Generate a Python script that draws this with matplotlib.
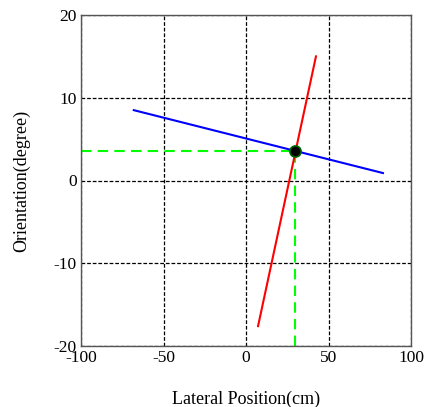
import matplotlib
matplotlib.use('Agg')
import matplotlib.pyplot as plt

# line endpoints
blue_x = [-68, 83]
blue_y = [8.5, 0.9]
red_x = [7.3, 42.4]
red_y = [-17.6, 15.0]
cross_x = 29.7
cross_y = 3.6

xticks = [-100, -50, 0, 50, 100]
yticks = [-20, -10, 0, 10, 20]

plt.rcParams['font.family'] = ['Liberation Serif', 'DejaVu Serif']
plt.rcParams['axes.unicode_minus'] = False

fig = plt.figure(figsize=(4.24, 4.07), dpi=100)
ax = fig.add_axes([81 / 424, 1 - 346 / 407, 330 / 424, 331 / 407])

ax.plot(blue_x, blue_y, color='blue', linewidth=1.5, zorder=3)
ax.plot(red_x, red_y, color='red', linewidth=1.5, zorder=3)
ax.plot([-100, cross_x], [cross_y, cross_y], color='#00ff00', linestyle='--',
        linewidth=1.5, dashes=(5, 3), zorder=2)
ax.plot([cross_x, cross_x], [-20, cross_y], color='#00ff00', linestyle='--',
        linewidth=1.5, dashes=(5, 3), zorder=2)
ax.plot(cross_x, cross_y, 'o', markersize=8, markerfacecolor='black',
        markeredgecolor='#006600', markeredgewidth=1.2, zorder=4)

ax.set_xlim(-100, 100)
ax.set_ylim(-20, 20)
ax.set_xticks(xticks)
ax.set_yticks(yticks)
ax.grid(True, color='black', linestyle=(0, (3, 1.5)), linewidth=0.9)
ax.tick_params(length=0, labelsize=12.5)
ax.tick_params(axis='x', pad=3)
ax.tick_params(axis='y', pad=3)
for s in ax.spines.values():
    s.set_color('#555555')
    s.set_linewidth(1.0)

ax.set_xlabel('Lateral Position(cm)', fontsize=13, labelpad=18)
ax.set_ylabel('Orientation(degree)', fontsize=13, labelpad=17)

fig.savefig('out.png', dpi=100)
